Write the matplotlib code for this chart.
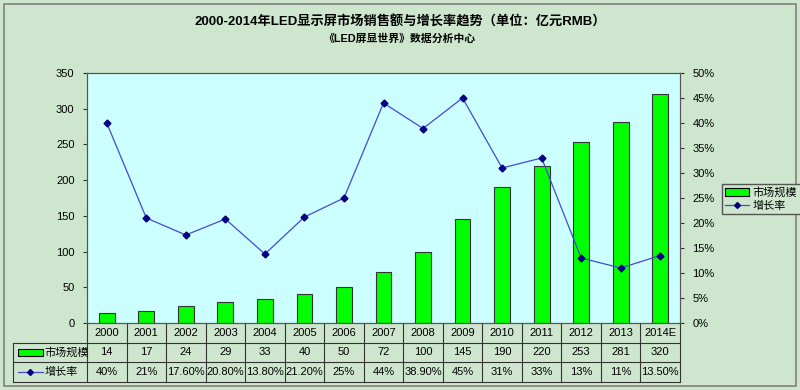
import matplotlib
matplotlib.use("Agg")
from matplotlib import pyplot as plt
from matplotlib.patches import Rectangle
from matplotlib.lines import Line2D
import matplotlib.transforms as mtransforms

plt.rcParams['font.family'] = ['Liberation Sans', 'Noto Sans CJK SC', 'DejaVu Sans']

# dados
anos = ['2000', '2001', '2002', '2003', '2004', '2005', '2006', '2007',
        '2008', '2009', '2010', '2011', '2012', '2013', '2014E']
mercado = [14, 17, 24, 29, 33, 40, 50, 72, 100, 145, 190, 220, 253, 281, 320]
crescimento = [40, 21, 17.6, 20.8, 13.8, 21.2, 25, 44, 38.9, 45, 31, 33, 13, 11, 13.5]
crescimento_txt = ['40%', '21%', '17.60%', '20.80%', '13.80%', '21.20%', '25%', '44%',
                   '38.90%', '45%', '31%', '33%', '13%', '11%', '13.50%']

fundo = '#cde6cd'
area = '#ccffff'
verde = '#00ff00'
azul_linha = '#4848d0'
azul_marc = '#000080'

W, H = 800, 390
fig = plt.figure(figsize=(8, 3.9), dpi=100, facecolor=fundo)

# moldura externa
fig.patches.append(Rectangle((4 / W, 4 / H), 792 / W, 382 / H, transform=fig.transFigure,
                             fill=False, edgecolor='#808080', lw=1.2))

# eixo principal (em pixels)
x0, x1, y_top, y_bot = 87, 680, 73, 323
ax = fig.add_axes([x0 / W, (H - y_bot) / H, (x1 - x0) / W, (y_bot - y_top) / H])
ax.set_facecolor(area)
n = len(anos)
xs = list(range(n))
ax.bar(xs, mercado, width=0.4, color=verde, edgecolor='#333333', linewidth=0.8, zorder=2)
ax.set_xlim(-0.5, n - 0.5)
ax.set_ylim(0, 350)
ax.set_yticks(range(0, 351, 50))
ax.set_xticks([])
ax.tick_params(axis='y', labelsize=8, length=3, color='#333333', pad=6)
for s in ax.spines.values():
    s.set_color('#555555')
    s.set_linewidth(0.8)

ax2 = ax.twinx()
ax2.plot(xs, crescimento, color=azul_linha, lw=0.9, marker='D', markersize=3.5,
         markerfacecolor=azul_marc, markeredgecolor=azul_marc, zorder=3)
ax2.set_ylim(0, 50)
ax2.set_yticks(range(0, 51, 5))
ax2.set_yticklabels([f'{v}%' for v in range(0, 51, 5)])
ax2.tick_params(axis='y', labelsize=8, length=3, color='#333333', pad=6)
for s in ax2.spines.values():
    s.set_color('#555555')
    s.set_linewidth(0.8)

# tabela de dados
altura_eixo = y_bot - y_top
row_h = 19.5 / altura_eixo
cw = (x1 - x0) / n
x_label_ini = -0.5 - (x0 - 13) / cw
trans = mtransforms.blended_transform_factory(ax.transData, ax.transAxes)
cor_linha = '#333333'

def hline(xa, xb, y):
    ax.add_line(Line2D([xa, xb], [y, y], transform=trans, color=cor_linha, lw=0.8, clip_on=False))

def vline(x, ya, yb):
    ax.add_line(Line2D([x, x], [ya, yb], transform=trans, color=cor_linha, lw=0.8, clip_on=False))

y1, y2, y3 = -row_h, -2 * row_h, -3 * row_h
hline(x_label_ini, n - 0.5, y1)
hline(x_label_ini, n - 0.5, y2)
hline(x_label_ini, n - 0.5, y3)
for i in range(n + 1):
    vline(i - 0.5, 0, y3)
vline(x_label_ini, y1, y3)

for i in range(n):
    ax.text(i, y1 / 2, anos[i], transform=trans, ha='center', va='center', fontsize=8, clip_on=False)
    ax.text(i, (y1 + y2) / 2, str(mercado[i]), transform=trans, ha='center', va='center',
            fontsize=8, clip_on=False)
    ax.text(i, (y2 + y3) / 2, crescimento_txt[i], transform=trans, ha='center', va='center',
            fontsize=8, clip_on=False)

# chaves das linhas da tabela
ax.add_patch(Rectangle((x_label_ini + 0.13, (y1 + y2) / 2 - 0.014), 0.62, 0.028, transform=trans,
                       facecolor=verde, edgecolor='#000000', lw=0.8, clip_on=False))
ax.text(x_label_ini + 0.8, (y1 + y2) / 2, '市场规模', transform=trans, ha='left', va='center',
        fontsize=8, clip_on=False)
ax.add_line(Line2D([x_label_ini + 0.13, x_label_ini + 0.75], [(y2 + y3) / 2] * 2, transform=trans,
                   color=azul_linha, lw=0.9, clip_on=False))
ax.add_line(Line2D([x_label_ini + 0.44], [(y2 + y3) / 2], transform=trans, marker='D',
                   markersize=3, color=azul_marc, clip_on=False))
ax.text(x_label_ini + 0.8, (y2 + y3) / 2, '增长率', transform=trans, ha='left', va='center',
        fontsize=8, clip_on=False)

# legenda
leg_h = [Rectangle((0, 0), 1, 1, facecolor=verde, edgecolor='#000000', lw=0.8),
         Line2D([], [], color=azul_linha, lw=0.9, marker='D', markersize=3,
                markerfacecolor=azul_marc, markeredgecolor=azul_marc)]
fig.legend(leg_h, ['市场规模', '增长率'], loc='center left',
           bbox_to_anchor=(716 / W, (H - 199) / H), fontsize=8, frameon=True,
           fancybox=False, edgecolor='#555555', facecolor=fundo, framealpha=1,
           handlelength=2.2, handletextpad=0.3, borderpad=0.3, labelspacing=0.2)

# títulos
fig.text(0.5, (H - 22) / H, '2000-2014年LED显示屏市场销售额与增长率趋势（单位：亿元RMB）',
         ha='center', va='center', fontsize=9.5, fontweight='bold')
fig.text(0.5, (H - 39) / H, '《LED屏显世界》数据分析中心', ha='center', va='center',
         fontsize=7.8, fontweight='bold')

fig.savefig('out.png', dpi=100, facecolor=fundo)
